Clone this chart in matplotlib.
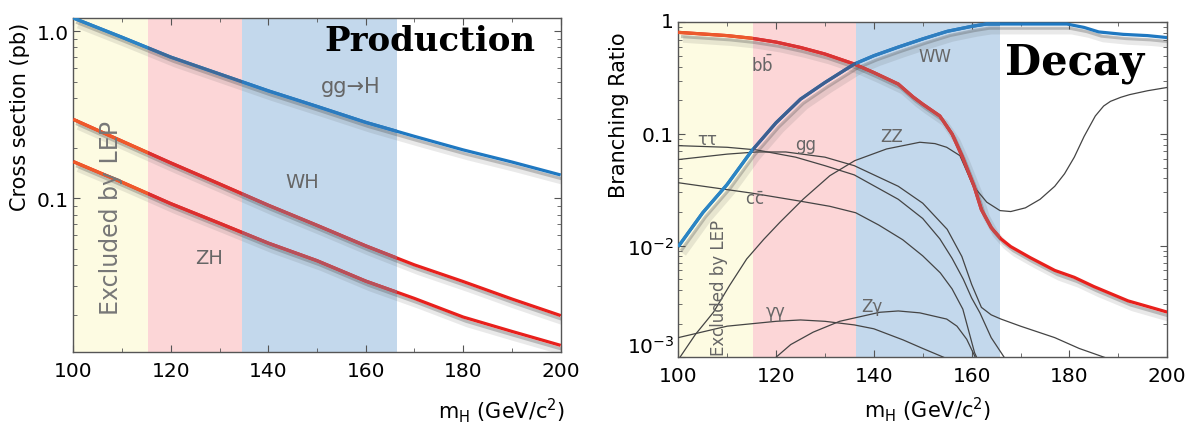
import matplotlib
matplotlib.use("Agg")
import matplotlib.pyplot as plt
import matplotlib.patheffects as pe
import matplotlib.transforms as mtransforms
from matplotlib.ticker import FixedLocator, FixedFormatter, MultipleLocator, NullFormatter

# ---- production cross sections (pb) ----
mh_prod = [100, 110, 120, 130, 140, 150, 160, 170, 180, 190, 200]
xs_ggH = [1.20, 0.92, 0.70, 0.555, 0.44, 0.355, 0.285, 0.235, 0.195, 0.165, 0.138]
xs_WH = [0.297, 0.22, 0.163, 0.122, 0.091, 0.069, 0.052, 0.040, 0.0318, 0.025, 0.0199]
xs_ZH = [0.166, 0.125, 0.093, 0.071, 0.054, 0.0424, 0.032, 0.0252, 0.0195, 0.016, 0.0132]

# ---- decay branching ratios ----
bb_x = [100, 110, 115, 120, 125, 130, 136, 140, 145, 148, 150, 153.5, 156, 158, 160.5, 162, 164, 166, 168, 172, 177, 181, 185, 192, 200]
bb_y = [0.813, 0.76, 0.72, 0.665, 0.595, 0.52, 0.423, 0.355, 0.28, 0.215, 0.185, 0.145, 0.10, 0.064, 0.034, 0.021, 0.0145,
        0.0115, 0.0098, 0.0078, 0.006, 0.0052, 0.0043, 0.0032, 0.00254]
ww_x = [100, 105, 110, 115, 120, 125, 130, 136, 140, 145, 150, 155, 160, 163, 170, 179.5, 183, 186, 191, 196, 200]
ww_y = [0.0098, 0.0197, 0.0353, 0.0704, 0.126, 0.205, 0.289, 0.423, 0.502, 0.60, 0.71, 0.83, 0.92, 0.965, 0.965, 0.965,
        0.9, 0.82, 0.78, 0.76, 0.73]
zz_x = [100, 103.5, 107.2, 110.5, 114, 117.5, 120.8, 125.6, 131, 136.1, 142.6, 149.4, 152.5, 154.9, 157.6, 160.3, 163.1,
        165.8, 168, 171, 174, 177, 179, 181, 183, 185.3, 187, 188.4, 190.5, 192.3, 196, 200]
zz_y = [0.00095, 0.0016, 0.00253, 0.0044, 0.0076, 0.0114, 0.0162, 0.0262, 0.0423, 0.0577, 0.0734, 0.0843, 0.082, 0.076,
        0.064, 0.0344, 0.0245, 0.0206, 0.0202, 0.0218, 0.026, 0.034, 0.044, 0.062, 0.095, 0.145, 0.178, 0.196, 0.213,
        0.225, 0.244, 0.261]
tautau_x = [100, 110, 116, 124, 130, 136, 145, 150, 153.5, 156, 158.3, 160, 161.7, 164, 167]
tautau_y = [0.0786, 0.076, 0.072, 0.062, 0.052, 0.043, 0.026, 0.0175, 0.0115, 0.0077, 0.005, 0.0034, 0.0025, 0.0015, 0.00095]
gg_x = [100, 110, 116, 122, 130, 136, 145, 150, 155, 158, 160, 162, 164, 166, 170, 177, 182, 188]
gg_y = [0.059, 0.066, 0.069, 0.069, 0.062, 0.052, 0.034, 0.024, 0.014, 0.008, 0.0045, 0.0028, 0.0024, 0.0022, 0.0019,
        0.0015, 0.0012, 0.00097]
cc_x = [100, 114.9, 125, 131, 136.3, 141, 145.9, 150, 153.6, 156, 158.2, 160.6, 161.5]
cc_y = [0.0366, 0.0296, 0.025, 0.0225, 0.0197, 0.0153, 0.0113, 0.0081, 0.0057, 0.0041, 0.0027, 0.0011, 0.0009]
gamgam_x = [100, 110, 120, 125, 130, 136, 140, 146, 150, 155.5]
gamgam_y = [0.0015, 0.0019, 0.0021, 0.00216, 0.0021, 0.00195, 0.0018, 0.00143, 0.0012, 0.00095]
zgam_x = [119.4, 123, 127.6, 133, 137, 141.2, 145, 149.4, 154.9, 157, 159, 160.3, 161]
zgam_y = [0.00095, 0.0013, 0.00168, 0.0021, 0.0023, 0.00253, 0.0026, 0.0025, 0.0022, 0.0019, 0.00145, 0.0011, 0.00095]

# mass bands (GeV)
bands_prod = [(100, 115.3), (115.3, 134.7), (134.7, 166.5)]
bands_decay = [(100, 115.3), (115.3, 136.3), (136.3, 165.8)]
band_colors = ['#fdfbe2', '#fcd6d7', '#c3d8ec']

BLUE = '#1f78c1'
RED = '#e8201c'
blue_tints = ['#2b83c4', '#3d6a9a', '#2b7bbf']
red_tints = ['#ef5a2a', '#dc2f2f', '#b8505a']
red_tints2 = ['#ec5a2c', '#d93434', '#c84646']
blue_tints2 = ['#2b85c4', '#3d5f90', '#2e7ec0']

shadow = [pe.SimpleLineShadow(offset=(3.5, -5), shadow_color='0.3', alpha=0.12, linewidth=5),
          pe.SimpleLineShadow(offset=(2, -3), shadow_color='0.3', alpha=0.3),
          pe.Normal()]

fig = plt.figure(figsize=(11.92, 4.27), dpi=100)
axL = fig.add_axes([0.0615, 0.1726, 0.4089, 0.7829])
axR = fig.add_axes([0.569, 0.1609, 0.4102, 0.7845])


def thick_line(ax, x, y, base, tints, patches):
    ax.plot(x, y, color=base, lw=2.3, zorder=4, path_effects=shadow, solid_capstyle='butt')
    for p, c in zip(patches, tints):
        l, = ax.plot(x, y, color=c, lw=2.3, zorder=5, solid_capstyle='butt')
        l.set_clip_path(p)


def style_axes(ax):
    ax.set_xlim(100, 200)
    ax.set_yscale('log')
    ax.xaxis.set_major_locator(MultipleLocator(20))
    ax.xaxis.set_minor_locator(MultipleLocator(10))
    ax.tick_params(which='both', direction='in', top=True, right=True, color='#555', labelsize=14.5, pad=6)
    ax.tick_params(which='major', length=5)
    ax.tick_params(which='minor', length=3)
    for s in ax.spines.values():
        s.set_color('#555')
        s.set_linewidth(1.0)


# ---------------- left: production ----------------
style_axes(axL)
axL.set_ylim(0.012, 1.2)
pL = [axL.axvspan(a, b, color=c, lw=0, zorder=1) for (a, b), c in zip(bands_prod, band_colors)]
thick_line(axL, mh_prod, xs_ggH, BLUE, blue_tints, pL)
thick_line(axL, mh_prod, xs_WH, RED, red_tints, pL)
thick_line(axL, mh_prod, xs_ZH, RED, red_tints, pL)
axL.yaxis.set_major_locator(FixedLocator([0.1, 1.0]))
axL.yaxis.set_major_formatter(FixedFormatter(['0.1', '1.0']))
axL.yaxis.set_minor_formatter(NullFormatter())
axL.tick_params(axis='y', pad=3)

axL.text(156.9, 0.472, 'gg→H', color='#666', fontsize=15, ha='center', va='center', zorder=6)
axL.text(147, 0.127, 'WH', color='#666', fontsize=14, ha='center', va='center', zorder=6)
axL.text(127.8, 0.0444, 'ZH', color='#666', fontsize=14, ha='center', va='center', zorder=6)
axL.text(107.8, 0.077, 'Excluded by LEP', color='#777', fontsize=17, rotation=90, ha='center', va='center', zorder=6)
axL.text(173.2, 0.88, 'Production', family='DejaVu Serif', fontweight='bold', fontsize=24.5,
         ha='center', va='center', zorder=7)

fig.text(20 / 1192, 1 - 117 / 427, 'Cross section (pb)', rotation=90, fontsize=15, ha='center', va='center')
fig.text(565 / 1192, 1 - 411 / 427, r'm$_\mathregular{H}$ (GeV/c$^\mathregular{2}$)', fontsize=15,
         ha='right', va='center')

# ---------------- right: decay ----------------
style_axes(axR)
axR.set_ylim(1e-3, 1)
pR = [axR.axvspan(a, b, color=c, lw=0, zorder=1) for (a, b), c in zip(bands_decay, band_colors)]
thin = dict(color='#444444', lw=0.9, zorder=3)
axR.plot(zz_x, zz_y, **thin)
axR.plot(tautau_x, tautau_y, **thin)
axR.plot(gg_x, gg_y, **thin)
axR.plot(cc_x, cc_y, **thin)
axR.plot(gamgam_x, gamgam_y, **thin)
axR.plot(zgam_x, zgam_y, **thin)
thick_line(axR, bb_x, bb_y, RED, red_tints2, pR)
thick_line(axR, ww_x, ww_y, BLUE, blue_tints2, pR)

axR.yaxis.set_major_locator(FixedLocator([1e-3, 1e-2, 0.1, 1]))
axR.yaxis.set_major_formatter(FixedFormatter([r'10$^\mathregular{-3}$', r'10$^\mathregular{-2}$', '0.1', '1']))
axR.yaxis.set_minor_formatter(NullFormatter())
axR.tick_params(axis='y', pad=3)
# the end labels sit a little inside the frame in the original
ticks = axR.yaxis.get_major_ticks()
ticks[0].label1.set_transform(ticks[0].label1.get_transform()
                              + mtransforms.ScaledTranslation(0, 10 / 72, fig.dpi_scale_trans))
ticks[3].label1.set_transform(ticks[3].label1.get_transform()
                              + mtransforms.ScaledTranslation(0, 2 / 72, fig.dpi_scale_trans))

lab = dict(color='#666', fontsize=12, ha='center', va='center', zorder=6)
axR.text(117.2, 0.422, r'b$\mathregular{\bar{b}}$', **lab)
axR.text(152.4, 0.495, 'WW', **lab)
axR.text(106, 0.091, 'ττ', **lab)
axR.text(126.1, 0.081, 'gg', **lab)
axR.text(115.7, 0.026, r'c$\mathregular{\bar{c}}$', **lab)
axR.text(143.7, 0.095, 'ZZ', **lab)
axR.text(120, 0.0026, 'γγ', **lab)
axR.text(139.7, 0.0029, 'Zγ', **lab)
axR.text(108.4, 0.0043, 'Excluded by LEP', color='#666', fontsize=12, family=['Liberation Sans Narrow', 'DejaVu Sans'],
         rotation=90, ha='center', va='center', zorder=6)
axR.text(181.1, 0.44, 'Decay', family='DejaVu Serif', fontweight='bold', fontsize=30,
         ha='center', va='center', zorder=7)

fig.text(619 / 1192, 1 - 115 / 427, 'Branching Ratio', rotation=90, fontsize=15, ha='center', va='center')
fig.text(928 / 1192, 1 - 410 / 427, r'm$_\mathregular{H}$ (GeV/c$^\mathregular{2}$)', fontsize=15,
         ha='center', va='center')

fig.savefig('out.png', dpi=100)
